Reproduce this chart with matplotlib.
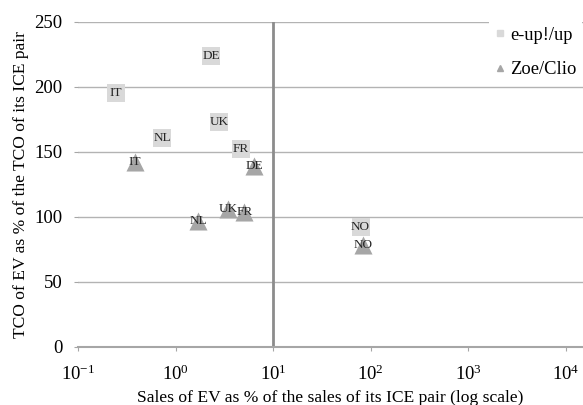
import matplotlib
matplotlib.use('Agg')
import matplotlib.pyplot as plt
from matplotlib.lines import Line2D

plt.rcParams['font.family'] = ['Liberation Serif', 'DejaVu Serif']
plt.rcParams['mathtext.fontset'] = 'custom'
plt.rcParams['mathtext.rm'] = 'Liberation Serif'

# e-up!/up (squares)
up_labels = ['DE', 'IT', 'UK', 'NL', 'FR', 'NO']
up_sales = [2.30, 0.244, 2.79, 0.728, 4.66, 78.4]
up_tco = [223.8, 194.9, 173.1, 160.8, 151.8, 92.3]

# Zoe/Clio (triangles)
zoe_labels = ['IT', 'DE', 'UK', 'FR', 'NL', 'NO']
zoe_sales = [0.382, 6.38, 3.45, 5.05, 1.70, 82.6]
zoe_tco = [141.7, 138.8, 106.2, 103.6, 96.4, 78.5]

yticks = [0, 50, 100, 150, 200, 250]

fig = plt.figure(figsize=(5.83, 4.05), dpi=100)
ax = fig.add_axes([78.3/583, (405-346.7)/405, 1-78.3/583, (346.7-21.7)/405])

ax.set_xscale('log')
ax.set_xlim(0.1, 10**4.176)
ax.set_ylim(0, 250)

# gridlines
for v in yticks[1:]:
    ax.axhline(v, color='#b3b3b3', lw=1.0, zorder=1)
# vertical axis crossing at 10
ax.axvline(10, color='#8c8c8c', lw=2.0, zorder=1)

ax.scatter(up_sales, up_tco, marker='s', s=13**2, color='#d9d9d9', zorder=3, linewidths=0)
ax.scatter(zoe_sales, zoe_tco, marker='^', s=13**2, color='#a6a6a6', zorder=3, linewidths=0)
for x, y, t in zip(up_sales, up_tco, up_labels):
    ax.text(x, y, t, ha='center', va='center', fontsize=9.5, color='#262626', zorder=4)
for x, y, t in zip(zoe_sales, zoe_tco, zoe_labels):
    ax.text(x, y, t, ha='center', va='center', fontsize=9.5, color='#262626', zorder=4)

for s in ['top', 'right', 'left']:
    ax.spines[s].set_visible(False)
ax.spines['bottom'].set_color('#a6a6a6')
ax.spines['bottom'].set_linewidth(1.5)

ax.set_yticks(yticks)
ax.set_xticks([0.1, 1, 10, 100, 1000, 10000])
ax.minorticks_off()
ax.tick_params(axis='x', length=3, color='#a6a6a6', labelsize=13.5, pad=10)
ax.tick_params(axis='y', length=3, color='#a6a6a6', labelsize=13.5, pad=8.5)

ax.set_xlabel('Sales of EV as % of the sales of its ICE pair (log scale)', fontsize=12.6, labelpad=4)
ax.set_ylabel('TCO of EV as % of the TCO of its ICE pair', fontsize=12.6, labelpad=4)

handles = [Line2D([], [], marker='s', color='#d9d9d9', ls='', ms=5),
           Line2D([], [], marker='^', color='#a6a6a6', ls='', ms=5)]
leg = ax.legend(handles, ['e-up!/up', 'Zoe/Clio'], loc='upper left',
                bbox_to_anchor=(489/583, 1 - 21/405), bbox_transform=fig.transFigure,
                fontsize=13.3, frameon=True, fancybox=False, borderaxespad=0,
                handlelength=0.6, handletextpad=0.25, labelspacing=0.95, borderpad=0.3)
leg.get_frame().set_facecolor('white')
leg.get_frame().set_edgecolor('none')
leg.get_frame().set_alpha(1)
leg.set_zorder(5)

fig.savefig('out.png', dpi=100)
